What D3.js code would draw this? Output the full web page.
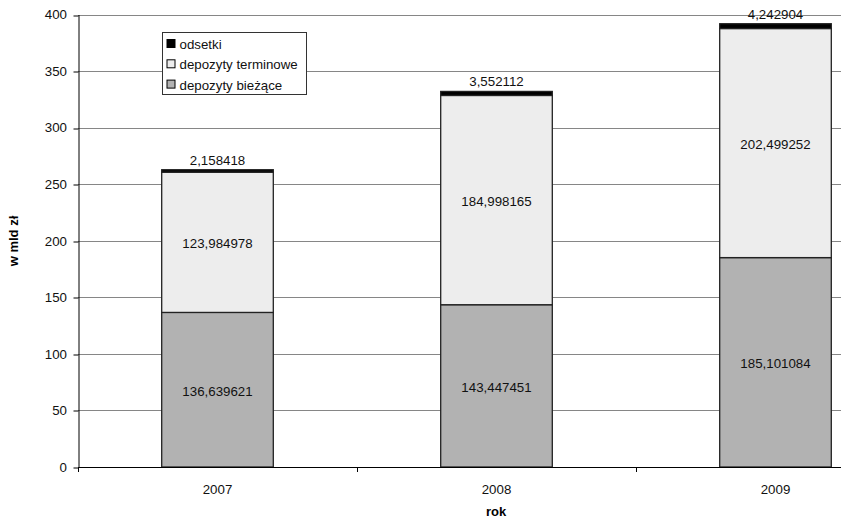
<!DOCTYPE html>
<html><head><meta charset="utf-8">
<script src="https://cdn.jsdelivr.net/npm/d3@7"></script>
<style>body{margin:0;background:#fff;} text{font-family:"Liberation Sans",Arial,sans-serif;}</style>
</head><body><svg id="c" width="841" height="518"></svg>
<script>
const years = ["2007","2008","2009"];
const biezace = [136.639621, 143.447451, 185.101084];
const terminowe = [123.984978, 184.998165, 202.499252];
const odsetki = [2.158418, 3.552112, 4.242904];
const yTicks = [0,50,100,150,200,250,300,350,400];
const seriesNames = ["depozyty bieżące","depozyty terminowe","odsetki"];
const seriesColors = ["#b2b2b2","#ededed","#000000"];

const svg = d3.select("#c");
const pL = 78, pT = 14.5, pB = 467, pR = 78 + 3*279;
const x = d3.scaleBand().domain(years).range([pL, pR]).paddingInner(0.6).paddingOuter(0.3);
const xb = d3.scaleBand().domain(years).range([pL, pR]);
const y = d3.scaleLinear().domain([0,400]).range([pB, pT]);
const fmt = v => String(v).replace(".", ",");
const FS = 13.3;

// gridlines
svg.append("g").selectAll("line").data(yTicks.filter(d=>d>0)).join("line")
  .attr("x1", pL).attr("x2", pR).attr("y1", d=>Math.round(y(d))+0.5).attr("y2", d=>Math.round(y(d))+0.5)
  .attr("stroke", "#868686").attr("stroke-width", 1);

const stackData = years.map((yr,i)=>({year:yr, b:biezace[i], t:terminowe[i], o:odsetki[i]}));
const keys = ["b","t","o"];
const stack = d3.stack().keys(keys)(stackData);

const g = svg.append("g");
stack.forEach((layer, li) => {
  g.selectAll(null).data(layer).join("rect")
    .attr("x", d=>x(d.data.year)).attr("width", x.bandwidth())
    .attr("y", d=>y(d[1])).attr("height", d=>y(d[0])-y(d[1]))
    .attr("fill", seriesColors[li]).attr("stroke", "#222").attr("stroke-width", 1.3);
});
// labels
stack.forEach((layer, li) => {
  g.selectAll(null).data(layer).join("text")
    .attr("x", d=>x(d.data.year)+x.bandwidth()/2)
    .attr("y", d=> li<2 ? (y(d[0])+y(d[1]))/2 + 6 : y(d[1]) - 5)
    .attr("text-anchor","middle").attr("font-size", FS).attr("fill","#111")
    .text(d=>fmt(d.data[keys[li]]));
});

// y axis
const ya = d3.axisLeft(y).tickValues(yTicks).tickSize(5).tickSizeOuter(0).tickPadding(6.5);
svg.append("g").attr("transform",`translate(${pL+0.5},0)`).call(ya)
  .call(s=>s.select(".domain").attr("stroke","#000"))
  .call(s=>s.selectAll(".tick line").attr("transform", d=>`translate(0,${Math.round(y(d))+0.5-y(d)})`))
  .call(s=>s.selectAll("text").attr("font-size",FS).attr("fill","#111").attr("font-family","Liberation Sans, Arial, sans-serif"));
// x axis
svg.append("line").attr("x1",pL).attr("x2",pR).attr("y1",pB+0.5).attr("y2",pB+0.5).attr("stroke","#000");
svg.append("g").selectAll("line").data(years).join("line")
  .attr("x1", d=>Math.round(xb(d))+0.5).attr("x2", d=>Math.round(xb(d))+0.5).attr("y1", pB).attr("y2", pB+5).attr("stroke","#000");
svg.append("g").selectAll("text").data(years).join("text")
  .attr("x", d=>xb(d)+xb.bandwidth()/2).attr("y", pB+27)
  .attr("text-anchor","middle").attr("font-size",FS).attr("fill","#111").text(d=>d);

// titles
svg.append("text").attr("x", 496).attr("y", 516).attr("text-anchor","middle")
  .attr("font-size",13).attr("font-weight","bold").text("rok");
svg.append("text").attr("transform","translate(18,241) rotate(-90)").attr("text-anchor","middle")
  .attr("font-size",13).attr("font-weight","bold").text("w mld zł");

// legend
const lg = svg.append("g");
lg.append("rect").attr("x",162.5).attr("y",32.5).attr("width",144).attr("height",62)
  .attr("fill","#fff").attr("stroke","#333");
[2,1,0].forEach((si, k) => {
  const yy = 39.5 + k*20.3;
  lg.append("rect").attr("x",167).attr("y",yy).attr("width",8).attr("height",8)
    .attr("fill",seriesColors[si]).attr("stroke","#000");
  lg.append("text").attr("x",179.5).attr("y",yy+9.5).attr("font-size",FS).attr("fill","#111").text(seriesNames[si]);
});
</script></body></html>
